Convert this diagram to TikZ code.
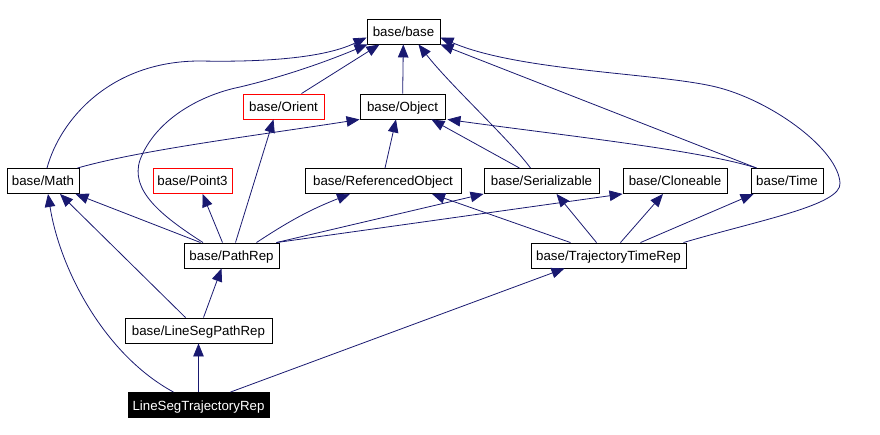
\documentclass[tikz,border=0pt]{standalone}
\usepackage{fontspec}
\setmainfont{Liberation Sans}
\usetikzlibrary{arrows.meta}
\definecolor{edgeblue}{HTML}{191970}

\begin{document}
\begin{tikzpicture}[x=1pt, y=-1pt,
  cls/.style={draw=black, line width=0.9pt, fill=white, text=black,
              font=\fontsize{13.3}{15}\selectfont, inner sep=0pt,
              text height=10pt, text depth=0pt, minimum height=25pt},
  undoc/.style={cls, draw=red},
  current/.style={cls, fill=black, text=white},
  inh/.style={edgeblue, line width=0.8pt,
              -{Triangle[length=13pt, width=10.5pt]}},
]
\useasboundingbox (0,0) rectangle (880,435);

% Root and second row.
\node[cls, minimum width=73pt] (base) at (403.5,31.5) {base/base};
\node[undoc, minimum width=81pt] (orient) at (283.5,106.5) {base/Orient};
\node[cls, minimum width=85pt] (object) at (402.5,106.5) {base/Object};

% Third row.
\node[cls, minimum width=72pt] (math) at (43,181) {base/Math};
\node[undoc, minimum width=79pt] (point3) at (192.5,181) {base/Point3};
\node[cls, minimum width=156pt] (refobj) at (383,181) {base/ReferencedObject};
\node[cls, minimum width=115pt] (serial) at (541.5,181) {base/Serializable};
\node[cls, minimum width=104pt] (clone) at (675,181) {base/Cloneable};
\node[cls, minimum width=72pt] (time) at (787,181) {base/Time};

% Representations.
\node[cls, minimum width=95pt] (pathrep) at (231.5,255.5) {base/PathRep};
\node[cls, minimum width=155pt] (ttr) at (608.5,255.5) {base/TrajectoryTimeRep};
\node[cls, minimum width=147pt] (lspr) at (198.5,330.5) {base/LineSegPathRep};
\node[current, minimum width=141pt] (lstr) at (198.5,405) {LineSegTrajectoryRep};

% Edges into base/base.
\draw[inh] ([xshift=4pt]math.north) .. controls (60,120) and (110,61) .. (200,61)
  .. controls (250,62) and (320,60) .. ([yshift=-6pt]base.west);
\draw[inh] ([xshift=-28.5pt]pathrep.north) .. controls (160,215) and (130,190) .. (140,160)
  .. controls (155,120) and (200,95) .. (240,87)
  .. controls (290,75) and (330,60) .. ([xshift=1pt]base.south west);
\draw[inh] ([xshift=18pt]orient.north) -- ([xshift=-24pt]base.south);
\draw[inh] (object) -- (base);
\draw[inh] ([xshift=-11pt]serial.north) .. controls (510,140) and (450,85) .. ([xshift=15pt]base.south);
\draw[inh] ([xshift=6pt]time.north west) -- (base.south east);
\draw[inh] ([xshift=-3pt]ttr.north east) .. controls (760,220) and (842,205) .. (840,183)
  .. controls (838,150) and (775,103) .. (720,88)
  .. controls (665,73) and (520,72) .. ([yshift=-6pt]base.east);

% Edges into base/Object.
\draw[inh] ([xshift=-2pt]math.north east) .. controls (140,150) and (260,135) .. (object.south west);
\draw[inh] ([xshift=2pt]refobj.north) -- ([xshift=-6.5pt]object.south);
\draw[inh] ([xshift=-22pt]serial.north) -- ([xshift=-14pt]object.south east);
\draw[inh] ([xshift=6pt]time.north west) .. controls (700,150) and (560,135) .. ([xshift=2pt]object.south east);

% base/PathRep.
\draw[inh] ([xshift=-31pt]pathrep.north) -- ([xshift=-4pt]math.south east);
\draw[inh] ([xshift=-9pt]pathrep.north) -- ([xshift=10pt]point3.south);
\draw[inh] ([xshift=4pt]pathrep.north) -- ([xshift=-10pt]orient.south);
\draw[inh] ([xshift=25pt]pathrep.north) to[bend left=6] ([xshift=-33pt]refobj.south);
\draw[inh] ([xshift=-3pt]pathrep.north east) -- (serial.south west);
\draw[inh] ([xshift=-3pt]pathrep.north east) -- (clone.south west);

% base/TrajectoryTimeRep.
\draw[inh] ([xshift=-38pt]ttr.north) -- ([xshift=49pt]refobj.south);
\draw[inh] ([xshift=-12pt]ttr.north) -- ([xshift=15pt]serial.south);
\draw[inh] ([xshift=12pt]ttr.north) -- ([xshift=-12pt]clone.south);
\draw[inh] ([xshift=32pt]ttr.north) -- ([xshift=3pt]time.south west);

% base/LineSegPathRep and LineSegTrajectoryRep.
\draw[inh] ([xshift=-13pt]lspr.north) -- ([xshift=17pt]math.south);
\draw[inh] ([xshift=5pt]lspr.north) -- ([xshift=-10pt]pathrep.south);
\draw[inh] ([xshift=-25pt]lstr.north) .. controls (105,355) and (60,270) .. ([xshift=5pt]math.south);
\draw[inh] (lstr) -- (lspr);
\draw[inh] ([xshift=32pt]lstr.north) -- ([xshift=-44pt]ttr.south);

\end{tikzpicture}
\end{document}
